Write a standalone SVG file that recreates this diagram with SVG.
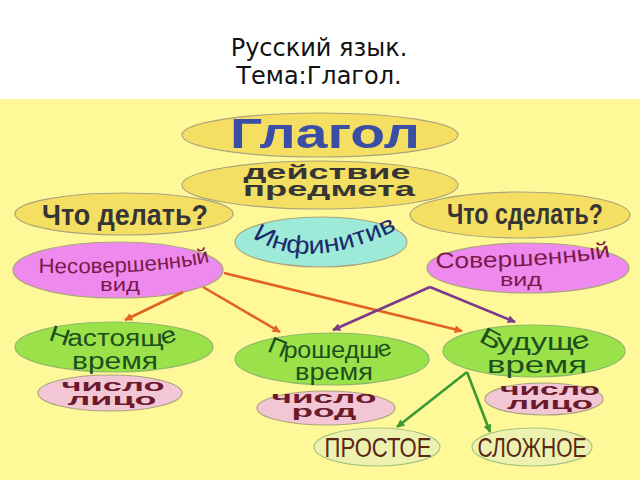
<svg xmlns="http://www.w3.org/2000/svg" width="640" height="480" viewBox="0 0 640 480">
<defs>
<style>
.title{font-family:"DejaVu Sans",sans-serif;font-size:24px;fill:#111;text-anchor:middle}
.t{font-family:"Liberation Sans",Arial,sans-serif;text-anchor:middle}
.b{font-weight:bold}
.ell{stroke:#a9a47c;stroke-width:1.2}
.gold{fill:#f4df63}
.aqua{fill:#9eead8}
.pink{fill:#ee8aee}
.green{fill:#9be24a;stroke:#8fb86a}
.lpink{fill:#f3c6d6}
.pale{fill:#eef2b0;stroke:#a6c47e}
.cg{fill:#353535}
.cv{fill:#7a1a4a}
.cgr{fill:#1d4f1d}
.cr{fill:#6a1a2a}
.cb{fill:#5a2814}
.up{text-transform:uppercase}
.ln{fill:none;stroke-width:2.6}
</style>
<marker id="mo" viewBox="0 0 10 10" refX="9" refY="5" markerWidth="9" markerHeight="8" markerUnits="userSpaceOnUse" orient="auto"><path d="M0,0 L10,5 L0,10 z" fill="#e2621f"/></marker>
<marker id="mp" viewBox="0 0 10 10" refX="9" refY="5" markerWidth="9" markerHeight="8" markerUnits="userSpaceOnUse" orient="auto"><path d="M0,0 L10,5 L0,10 z" fill="#7a3a8c"/></marker>
<marker id="mg" viewBox="0 0 10 10" refX="9" refY="5" markerWidth="9" markerHeight="8" markerUnits="userSpaceOnUse" orient="auto"><path d="M0,0 L10,5 L0,10 z" fill="#3a9a30"/></marker>
<path id="pInf" d="M 246,233 Q 305,278 404,226"/>
<path id="pNes" d="M 34,273 C 110,274 170,272 214,261"/>
<path id="pSov" d="M 432,268 C 510,268 570,265 614,256"/>
<path id="pNast" d="M 44,336 Q 56,345 75,346 L 150,346 Q 168,346 182,337"/>
<path id="pProsh" d="M 264,348 Q 276,358 295,358 L 370,358 Q 385,358 396,352"/>
<path id="pBud" d="M 476,337 Q 488,350 505,350 L 570,350 Q 583,350 594,343"/>
</defs>

<rect x="0" y="0" width="640" height="99" fill="#ffffff"/>
<rect x="0" y="99" width="640" height="381" fill="#fff899"/>

<g id="title">
<text class="title" x="319" y="56">Русский язык.</text>
<text class="title" x="319" y="84">Тема:Глагол.</text>
</g>

<g id="n-glagol">
<ellipse class="ell gold" cx="320" cy="135" rx="138" ry="22"/>
<text class="t b" x="325" y="148" font-size="42" fill="#3b4ea6" textLength="190" lengthAdjust="spacingAndGlyphs">Глагол</text>
</g>

<g id="n-deistvie">
<ellipse class="ell gold" cx="320" cy="185" rx="138" ry="24"/>
<text class="t b cg" x="327" y="179" font-size="20" textLength="167" lengthAdjust="spacingAndGlyphs">действие</text>
<text class="t b cg" x="329" y="196" font-size="20" textLength="172" lengthAdjust="spacingAndGlyphs">предмета</text>
</g>

<g id="n-chto-delat">
<ellipse class="ell gold" cx="124" cy="214" rx="109" ry="21"/>
<text class="t b cg" x="125" y="225" font-size="30" textLength="166" lengthAdjust="spacingAndGlyphs">Что делать?</text>
</g>

<g id="n-chto-sdelat">
<ellipse class="ell gold" cx="520" cy="215" rx="110" ry="23"/>
<text class="t b cg" x="525" y="224" font-size="30" textLength="156" lengthAdjust="spacingAndGlyphs">Что сделать?</text>
</g>

<g id="n-infinitiv">
<ellipse class="ell aqua" cx="321" cy="242" rx="86" ry="25"/>
<text class="t" font-size="25" fill="#1c2a6e"><textPath href="#pInf" startOffset="50%" textLength="152" lengthAdjust="spacingAndGlyphs">Инфинитив</textPath></text>
</g>

<g id="n-nesov">
<ellipse class="ell pink" cx="118" cy="270" rx="105" ry="28"/>
<text class="t cv" font-size="21"><textPath href="#pNes" startOffset="50%" textLength="172" lengthAdjust="spacingAndGlyphs">Несовершенный</textPath></text>
<text class="t cv" x="120" y="291" font-size="19" textLength="40" lengthAdjust="spacingAndGlyphs">вид</text>
</g>

<g id="n-sov">
<ellipse class="ell pink" cx="528" cy="268" rx="101" ry="25"/>
<text class="t cv" font-size="22"><textPath href="#pSov" startOffset="50%" textLength="176" lengthAdjust="spacingAndGlyphs">Совершенный</textPath></text>
<text class="t cv" x="521" y="286" font-size="19" textLength="42" lengthAdjust="spacingAndGlyphs">вид</text>
</g>

<g id="n-nast">
<ellipse class="ell green" cx="114" cy="347" rx="99" ry="25"/>
<text class="t cgr" font-size="23"><textPath href="#pNast" startOffset="50%" textLength="132" lengthAdjust="spacingAndGlyphs">Настояще</textPath></text>
<text class="t cgr" x="115" y="369" font-size="24" textLength="86" lengthAdjust="spacingAndGlyphs">время</text>
</g>

<g id="n-prosh">
<ellipse class="ell green" cx="332" cy="359" rx="97" ry="26"/>
<text class="t cgr" font-size="23"><textPath href="#pProsh" startOffset="50%" textLength="128" lengthAdjust="spacingAndGlyphs">Прошедше</textPath></text>
<text class="t cgr" x="334" y="380" font-size="23" textLength="78" lengthAdjust="spacingAndGlyphs">время</text>
</g>

<g id="n-bud">
<ellipse class="ell green" cx="534" cy="351" rx="91" ry="26"/>
<text class="t cgr" font-size="24"><textPath href="#pBud" startOffset="50%" textLength="116" lengthAdjust="spacingAndGlyphs">Будуще</textPath></text>
<text class="t cgr" x="537" y="373" font-size="24" textLength="100" lengthAdjust="spacingAndGlyphs">время</text>
</g>

<g id="n-chislo-lico-1">
<ellipse class="ell lpink" cx="110" cy="393" rx="72" ry="18"/>
<text class="t b cr" x="113" y="391" font-size="17" textLength="103" lengthAdjust="spacingAndGlyphs">число</text>
<text class="t b cr" x="112" y="405" font-size="17" textLength="89" lengthAdjust="spacingAndGlyphs">лицо</text>
</g>

<g id="n-chislo-rod">
<ellipse class="ell lpink" cx="326" cy="408" rx="69" ry="17"/>
<text class="t b cr" x="324" y="403" font-size="16" textLength="105" lengthAdjust="spacingAndGlyphs">число</text>
<text class="t b cr" x="324" y="417" font-size="17" textLength="65" lengthAdjust="spacingAndGlyphs">род</text>
</g>

<g id="n-chislo-lico-2">
<ellipse class="ell lpink" cx="544" cy="399" rx="59" ry="16"/>
<text class="t b cr" x="550" y="395" font-size="16" textLength="100" lengthAdjust="spacingAndGlyphs">число</text>
<text class="t b cr" x="550" y="409" font-size="16" textLength="86" lengthAdjust="spacingAndGlyphs">лицо</text>
</g>

<g id="n-prostoe">
<ellipse class="ell pale" cx="377" cy="447" rx="63" ry="19"/>
<text class="t cb up" x="378" y="457" font-size="28" textLength="107" lengthAdjust="spacingAndGlyphs">Простое</text>
</g>

<g id="n-slozhnoe">
<ellipse class="ell pale" cx="532" cy="447" rx="60" ry="19"/>
<text class="t cb up" x="532" y="457" font-size="28" textLength="109" lengthAdjust="spacingAndGlyphs">Сложное</text>
</g>

<g id="connectors">
<line class="ln" x1="224" y1="273" x2="462" y2="331" stroke="#e2621f" marker-end="url(#mo)"/>
<line class="ln" x1="203" y1="287" x2="280" y2="332" stroke="#e2621f" marker-end="url(#mo)"/>
<line class="ln" x1="183" y1="292" x2="125" y2="320" stroke="#e2621f" marker-end="url(#mo)"/>
<line class="ln" x1="430" y1="287" x2="333" y2="330" stroke="#7a3a8c" marker-end="url(#mp)"/>
<line class="ln" x1="430" y1="287" x2="515" y2="322" stroke="#7a3a8c" marker-end="url(#mp)"/>
<line class="ln" x1="467" y1="372" x2="397" y2="427" stroke="#3a9a30" marker-end="url(#mg)"/>
<line class="ln" x1="467" y1="372" x2="490" y2="432" stroke="#3a9a30" marker-end="url(#mg)"/>
</g>
</svg>
